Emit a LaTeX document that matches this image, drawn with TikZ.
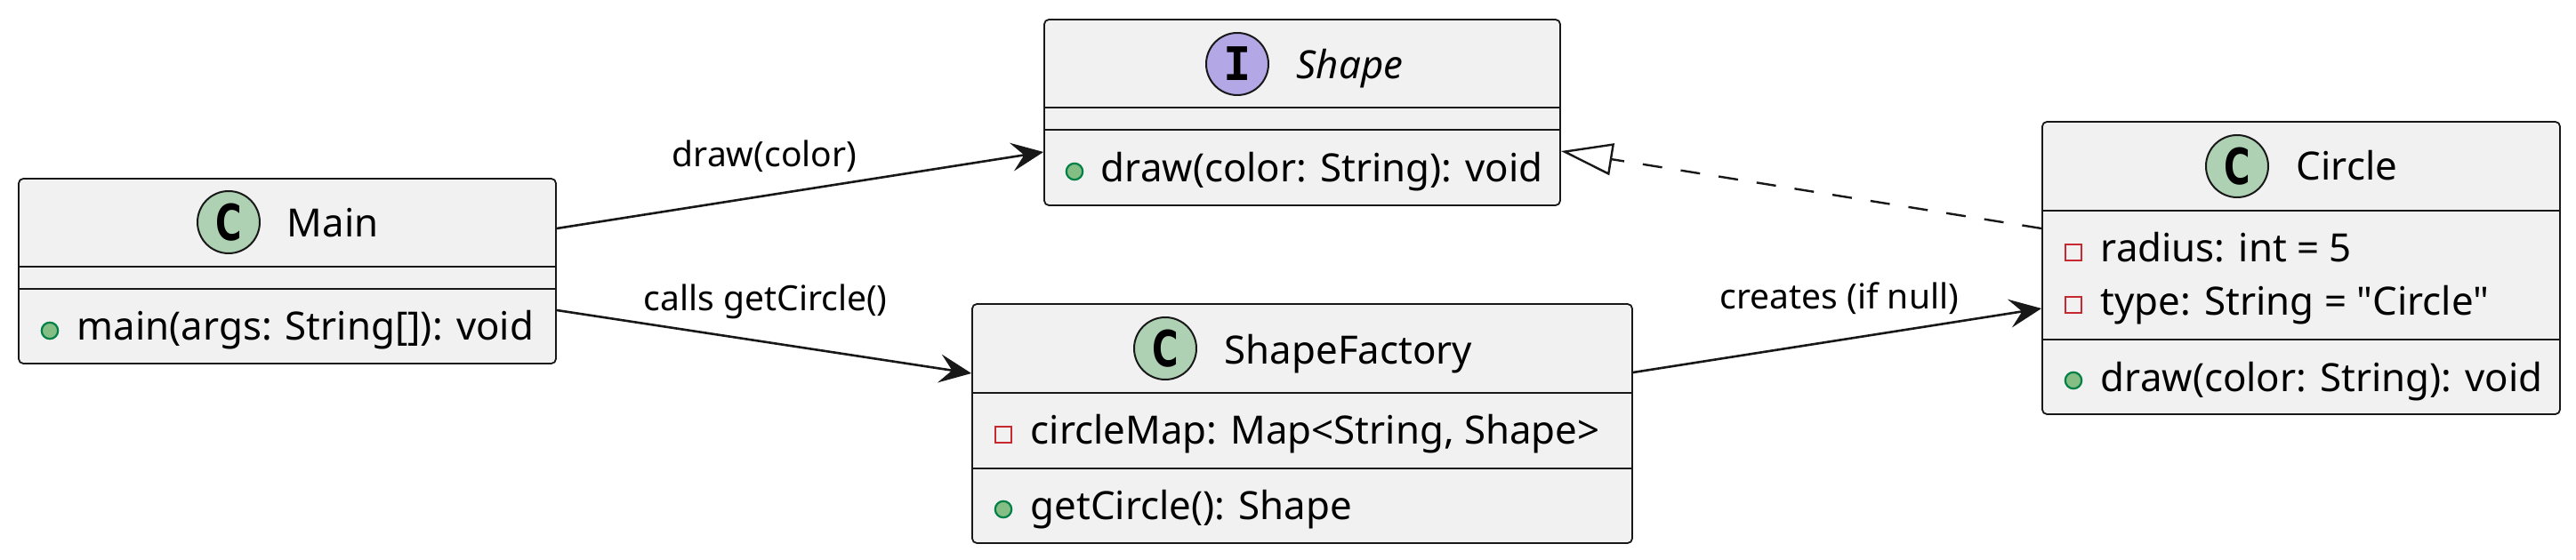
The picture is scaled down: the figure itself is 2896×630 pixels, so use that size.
\documentclass[tikz,border=0pt]{standalone}
\usepackage{fontspec}
\setmainfont{Noto Sans}
\newfontfamily\monob{DejaVu Sans Mono}
\newfontfamily\iconfont{DejaVu Sans}
\usetikzlibrary{arrows.meta,calc}
\definecolor{boxfill}{HTML}{F1F1F1}
\definecolor{boxline}{HTML}{181818}
\definecolor{cfill}{HTML}{ADD1B2}
\definecolor{ifill}{HTML}{B4A7E5}
\definecolor{pubfill}{HTML}{84BE84}
\definecolor{publine}{HTML}{038048}
\definecolor{privline}{HTML}{C82930}
\newcommand{\iconC}{\fontsize{14pt}{14pt}\iconfont\bfseries\selectfont\scalebox{0.72}[1]{C}}
\begin{document}
\begin{tikzpicture}[x=0.25pt,y=-0.25pt,
  umlbox/.style={rectangle, draw=boxline, fill=boxfill, line width=0.45pt, rounded corners=1.3pt, inner sep=0pt},
  divider/.style={draw=boxline, line width=0.35pt},
  icon/.style={circle, draw=boxline, line width=0.5pt, minimum size=17.5pt, inner sep=0pt},
  member/.style={anchor=base west, inner sep=0pt, font=\fontsize{10.95pt}{13pt}\selectfont},
  title/.style={anchor=base west, inner sep=0pt, font=\fontsize{10.95pt}{13pt}\selectfont},
  lbl/.style={anchor=base west, inner sep=0pt, font=\fontsize{9.75pt}{11pt}\selectfont},
  pub/.style={circle, draw=publine, fill=pubfill, line width=0.55pt, minimum size=4.6pt, inner sep=0pt},
  priv/.style={rectangle, draw=privline, fill=none, line width=0.55pt, minimum size=4.6pt, inner sep=0pt},
  conn/.style={draw=boxline, line width=0.65pt, -{Stealth[length=9pt,width=8pt,inset=3.5pt]}},
  realize/.style={draw=boxline, line width=0.6pt, dash pattern=on 5.5pt off 5.3pt, -{Triangle[open,length=14.5pt,width=9pt]}}
]
\useasboundingbox (0,0) rectangle (2896,630);

% boxes
\node[umlbox, minimum width=151pt, minimum height=52pt] (main) at (323,305) {};
\node[umlbox, minimum width=145pt, minimum height=52.25pt] (shape) at (1464,126.5) {};
\node[umlbox, minimum width=185.5pt, minimum height=67.25pt] (sf) at (1464,476.5) {};
\node[umlbox, minimum width=145.5pt, minimum height=82.25pt] (circ) at (2587,301.5) {};

% dividers
\draw[divider] (main.west |- 0,300) -- (main.east |- 0,300);
\draw[divider] (main.west |- 0,325) -- (main.east |- 0,325);
\draw[divider] (shape.west |- 0,121) -- (shape.east |- 0,121);
\draw[divider] (shape.west |- 0,146) -- (shape.east |- 0,146);
\draw[divider] (sf.west |- 0,442) -- (sf.east |- 0,442);
\draw[divider] (sf.west |- 0,527) -- (sf.east |- 0,527);
\draw[divider] (circ.west |- 0,237) -- (circ.east |- 0,237);
\draw[divider] (circ.west |- 0,382) -- (circ.east |- 0,382);

% icons and titles
\node[icon, fill=cfill] (mainC) at (257,250) {\iconC};
\node[title] (mainT) at (322,267) {Main};
\node[icon, fill=ifill] (shapeI) at (1391,72) {\fontsize{13pt}{13pt}\monob\bfseries\selectfont I};
\node[title, font=\fontsize{10.95pt}{13pt}\selectfont\itshape] (shapeT) at (1457,89) {Shape};
\node[icon, fill=cfill] (sfC) at (1310,392) {\iconC};
\node[title] (sfT) at (1376,410) {ShapeFactory};
\node[icon, fill=cfill] (circC) at (2515,187) {\iconC};
\node[title] (circT) at (2581,203) {Circle};

% members
\node[pub] (mainM1d) at (56,372) {};
\node[member] (mainM1) at (86,383) {main(args: String[]): void};
\node[pub] (shapeM1d) at (1208,193) {};
\node[member] (shapeM1) at (1237,205) {draw(color: String): void};
\node[priv] (sfF1d) at (1128,489) {};
\node[member] (sfF1) at (1158,500) {circleMap: Map<String, Shape>};
\node[pub] (sfM1d) at (1128,573) {};
\node[member] (sfM1) at (1158,585) {getCircle(): Shape};
\node[priv] (circF1d) at (2331,284) {};
\node[member] (circF1) at (2361,295) {radius: int = 5};
\node[priv] (circF2d) at (2331,343) {};
\node[member] (circF2) at (2361,355) {\addfontfeatures{Ligatures=TeXOff}type: String = "Circle"};
\node[pub] (circM1d) at (2331,428) {};
\node[member] (circM1) at (2361,441) {draw(color: String): void};

% connectors
\draw[conn] ($(main.east)+(0,-48)$) -- ($(shape.west)+(0,44.5)$);
\draw[conn] ($(main.east)+(0,44)$) -- ($(sf.west)+(0,-56.5)$);
\draw[conn] ($(sf.east)+(0,-57.5)$) -- ($(circ.west)+(0,45.5)$);
\draw[realize] ($(circ.west)+(0,-44.5)$) -- ($(shape.east)+(0,43.5)$);

% labels
\node[lbl] (l1) at (755,188) {draw(color)};
\node[lbl] (l2) at (723,350) {calls getCircle()};
\node[lbl] (l3) at (1933,348) {creates (if null)};
\end{tikzpicture}
\end{document}
